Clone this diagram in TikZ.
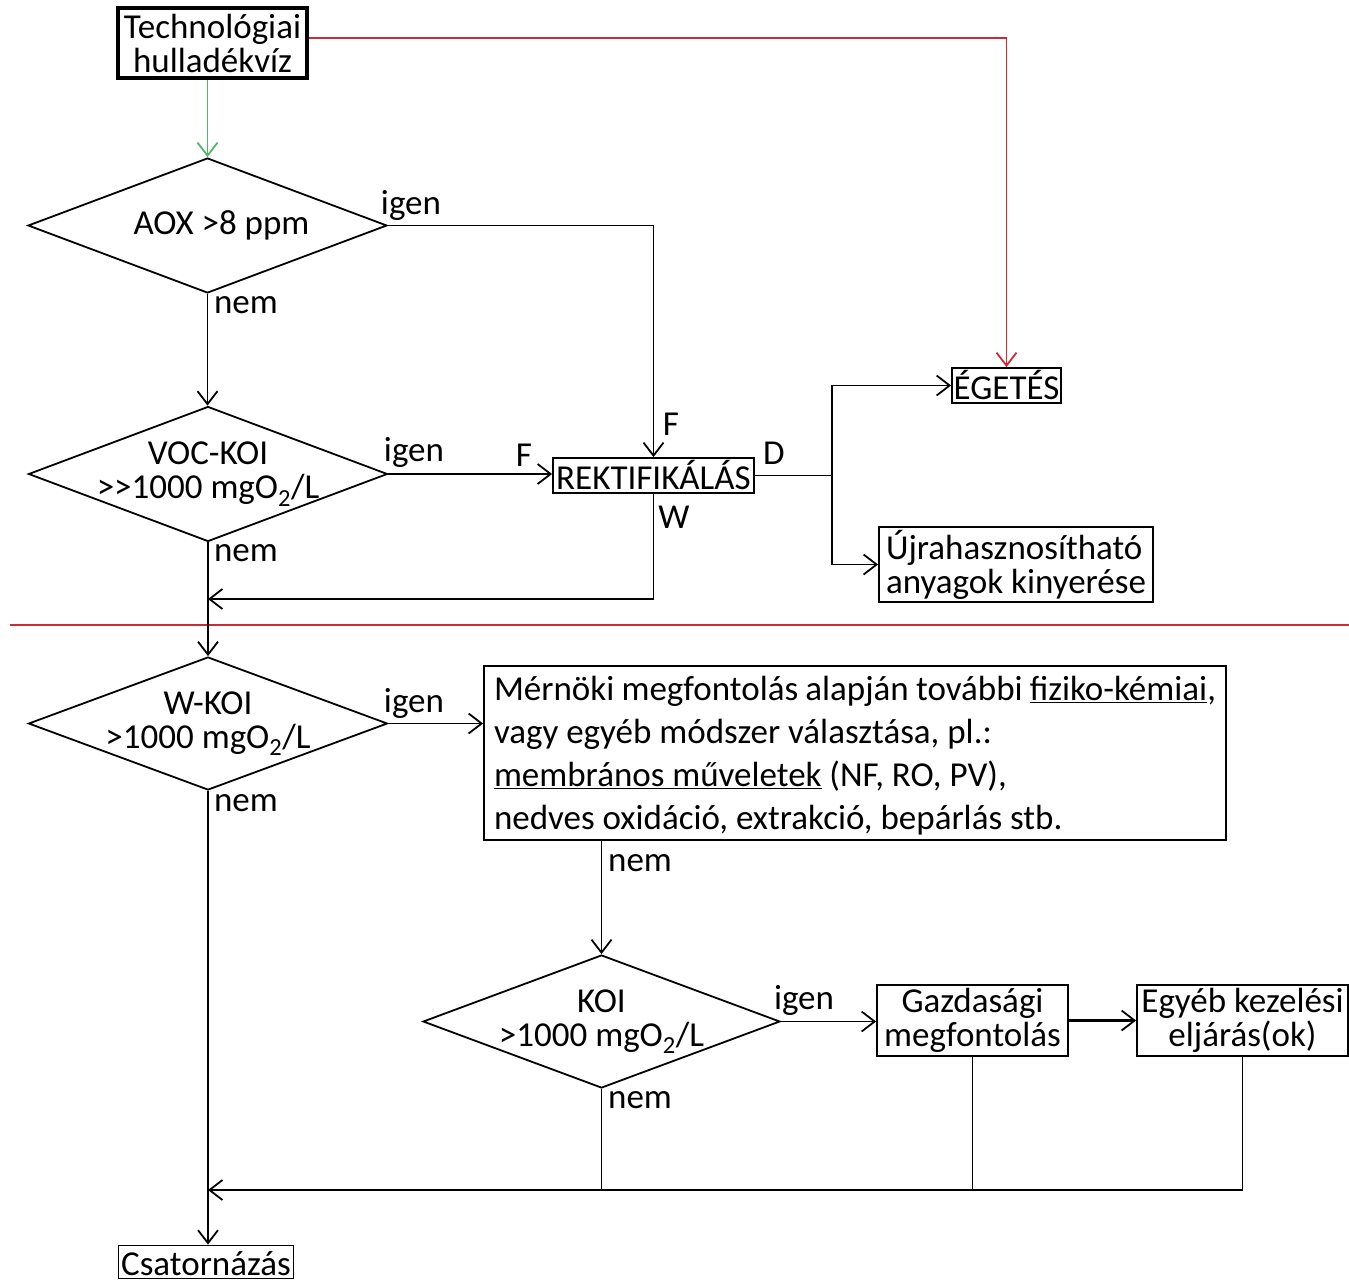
\documentclass[tikz,border=0pt]{standalone}
\usepackage{fontspec}
\setmainfont{Carlito}
\usepackage{xcolor}
\usetikzlibrary{arrows.meta}
\usetikzlibrary{shapes.geometric}
\definecolor{flowred}{RGB}{200,45,55}
\definecolor{flowgreen}{RGB}{85,180,105}
\tikzset{
    textnode/.style = {align=center, inner sep=1pt, font=\fontsize{35}{34}\selectfont},
    box/.style = {textnode, rectangle, draw=black, line width=1.8pt},
    tightbox/.style = {box, inner ysep=1pt, text height=30pt, text depth=3pt},
    startbox/.style = {box, line width=3.2pt, minimum width=189pt, minimum height=70pt},
    decision/.style = {diamond, draw=black, line width=1.8pt, inner sep=0pt, minimum width=359pt, minimum height=135pt},
    bigbox/.style = {box, align=flush left, text width=722pt, inner xsep=10pt, minimum height=174pt, font=\fontsize{35}{43}\selectfont},
    lbl/.style = {textnode, inner sep=0pt},
    flow/.style = {->, black, line width=1.8pt},
    redflow/.style = {->, flowred, line width=1.8pt},
    greenflow/.style = {->, flowgreen, line width=1.8pt}
}

\begin{document}
\begin{tikzpicture}
    [x=1pt, y=-1pt, >={Straight Barb[length=13pt,width=20pt,line width=1.8pt]}, line width=1.8pt]
    \useasboundingbox (0,0) rectangle (1349,1280);

    \node [startbox] (source) at (212.5,43) {Technológiai\\hulladékvíz};
    \node [decision, label={[textnode, xshift=14pt]center:AOX >8 ppm}] (aox) at (207.5,225.5) {};
    \node [decision, label={[textnode]center:VOC-KOI\\>\kern0pt>1000 mgO\textsubscript{2}/L}] (voc) at (208,474) {};
    \node [tightbox, minimum width=201pt, minimum height=35pt] (rekt) at (653.5,475.5) {REKTIFIKÁLÁS};
    \node [tightbox, minimum width=109pt, minimum height=35pt] (egetes) at (1006.5,385.5) {ÉGETÉS};
    \node [box, align=left, minimum width=274pt, minimum height=75pt] (ujra) at (1016,564.5) {Újrahasznosítható\\anyagok kinyerése};
    \node [decision, minimum height=133pt, label={[textnode]center:W-KOI\\>1000 mgO\textsubscript{2}/L}] (wkoi) at (208,723.5) {};
    \node [bigbox] (mernoki) at (855,753) {\rule{0pt}{30pt}Mérnöki megfontolás alapján további \underline{fiziko-kémiai},\\vagy egyéb módszer választása, pl.:\\\underline{membrános műveletek} (NF, RO, PV),\\nedves oxidáció, extrakció, bepárlás stb.};
    \node [decision, minimum width=357pt, minimum height=133pt, label={[textnode]center:KOI\\>1000 mgO\textsubscript{2}/L}] (koi) at (601.5,1021.5) {};
    \node [box, minimum width=191pt, minimum height=71pt] (gazd) at (972.5,1020.5) {Gazdasági\\megfontolás};
    \node [box, minimum width=211pt, minimum height=71pt] (egyeb) at (1242.5,1020.5) {Egyéb kezelési\\eljárás(ok)};
    \node [tightbox, text height=29pt, text depth=2pt, minimum width=175pt, minimum height=33pt] (csat) at (206,1262) {Csatornázás};

    \coordinate (dsplit) at (832,475.5);
    \coordinate (wjoin) at (208,599);
    \coordinate (bjoin) at (208,1190);
    \coordinate (sepleft) at (10,625);
    \coordinate (sepright) at (1349,625);

    \node [lbl] (igen1) at (411,205) {igen};
    \node [lbl] (nem1) at (246,305) {nem};
    \node [lbl] (igen2) at (414,452) {igen};
    \node [lbl] (fleft) at (524,455) {F};
    \node [lbl] (ftop) at (671,424) {F};
    \node [lbl] (dout) at (774,453) {D};
    \node [lbl] (wout) at (674,517) {W};
    \node [lbl] (nem2) at (246,553) {nem};
    \node [lbl] (igen3) at (414,703) {igen};
    \node [lbl] (nem3) at (246,803) {nem};
    \node [lbl] (nem4) at (640,863) {nem};
    \node [lbl] (igen4) at (804,1000) {igen};
    \node [lbl] (nem5) at (640,1100) {nem};

    \draw [greenflow] (aox.north |- source.south) -- (aox.north);
    \draw [redflow] ([yshift=5pt]source.east) -- ([yshift=5pt]source.east -| egetes.north) -- (egetes.north);
    \draw [flowred, line width=1.8pt] (sepleft) -- (sepright);

    \draw [flow] (aox.east) -- (aox.east -| rekt.north) -- (rekt.north);
    \draw [flow] (aox.south) -- (aox.south |- voc.north);
    \draw [flow] (voc.east) -- (voc.east -| rekt.west);
    \draw (rekt.east) -- (dsplit);
    \draw [flow] (dsplit) |- (egetes.west);
    \draw [flow] (dsplit) |- (ujra.west);
    \draw [flow] (rekt.south) |- (wjoin);
    \draw [flow] (voc.south) -- (wkoi.north);

    \draw [flow] (wkoi.east) -- (wkoi.east -| mernoki.west);
    \draw [flow] (wkoi.south) -- (wkoi.south |- csat.north);
    \draw [flow] (koi.north |- mernoki.south) -- (koi.north);
    \draw [flow] (koi.east) -- (koi.east -| gazd.west);
    \draw [flow, line width=3pt] (gazd.east) -- (egyeb.west);
    \draw (koi.south) -- (koi.south |- bjoin);
    \draw (gazd.south) -- (gazd.south |- bjoin);
    \draw [flow] (egyeb.south) |- (bjoin);
\end{tikzpicture}
\end{document}
